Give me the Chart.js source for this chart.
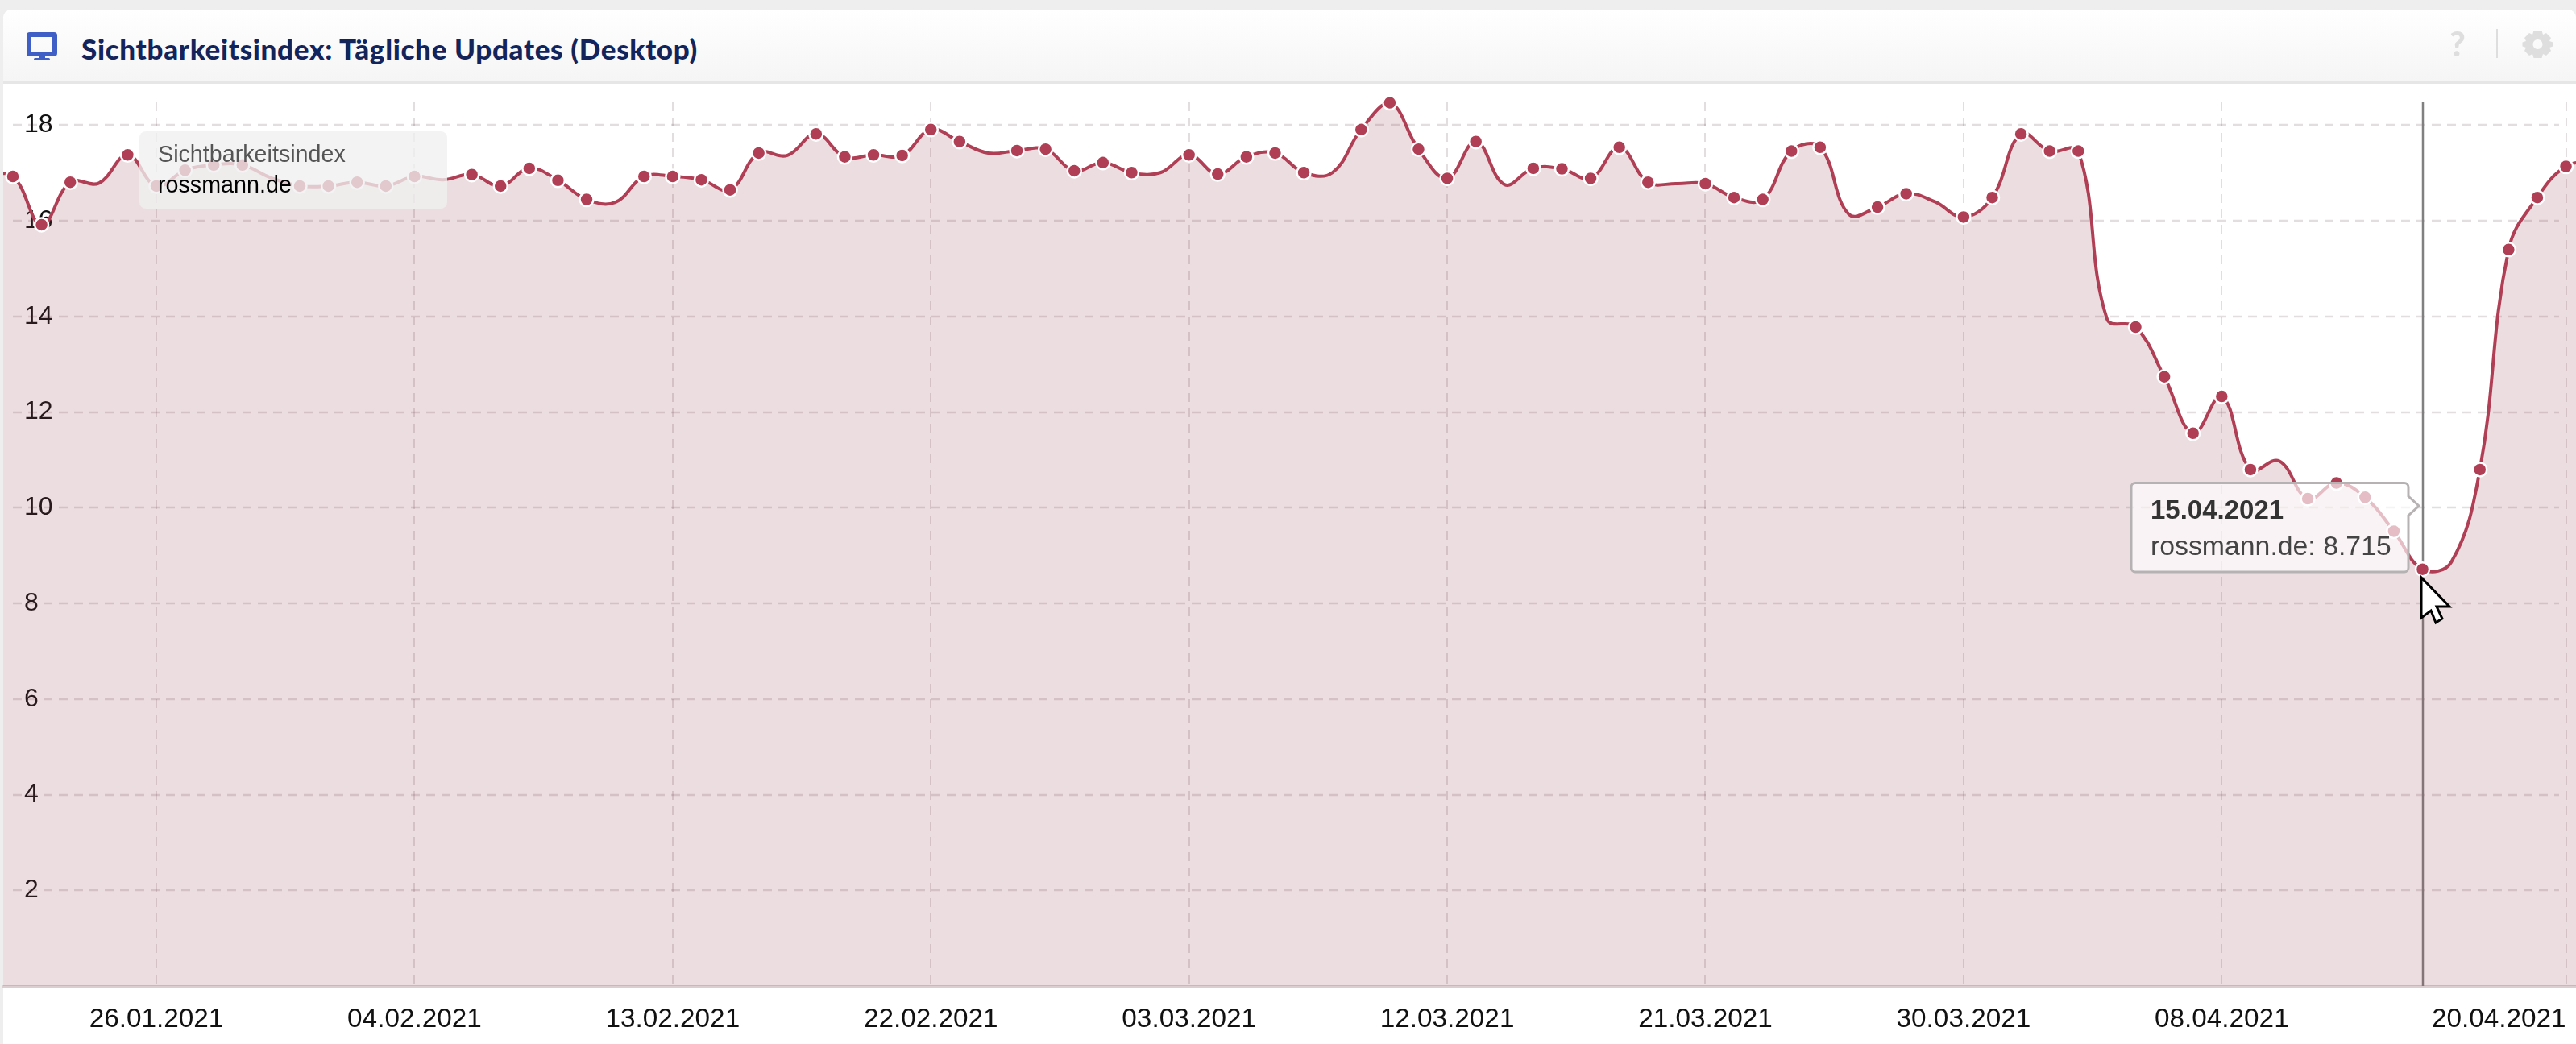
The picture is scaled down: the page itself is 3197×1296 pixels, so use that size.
<!DOCTYPE html>
<html lang="de">
<head>
<meta charset="utf-8">
<title>Sichtbarkeitsindex</title>
<script src="https://cdn.jsdelivr.net/npm/chart.js@4"></script>
<style>
html,body{margin:0;padding:0;width:3197px;height:1296px;overflow:hidden;background:#eeeeee;font-family:"Liberation Sans",Arial,sans-serif}
#card{position:absolute;left:4px;top:12px;width:3193px;height:1284px;background:#fff;border-radius:10px 10px 0 0;overflow:hidden}
#head{position:absolute;left:0;top:0;width:100%;height:89px;background:linear-gradient(#ffffff,#f5f5f5);border-bottom:3px solid #e6e6e6}
#title{position:absolute;left:97px;top:26px;font:900 35px/44px Lato,sans-serif;color:#13245b;white-space:nowrap;letter-spacing:.68px}
canvas{position:absolute;left:0;top:0}
#legend{position:absolute;left:173px;top:163px;width:382px;height:96px;background:rgba(240,240,240,.78);border-radius:8px}
#legend div{position:absolute;left:23px;white-space:nowrap;font-size:28.7px;line-height:34px}
#l1{top:11px;color:#555}
#l2{top:49px;color:#000}
svg{position:absolute;left:0;top:0}
</style>
</head>
<body>
<div id="card">
  <div id="head"><div id="title">Sichtbarkeitsindex: Tägliche Updates (Desktop)</div></div>
</div>
<canvas id="chart" width="3197" height="1296"></canvas>
<div id="legend"><div id="l1">Sichtbarkeitsindex</div><div id="l2">rossmann.de</div></div>
<svg width="3197" height="1296" viewBox="0 0 3197 1296">
  <g fill="#3f5fc6">
    <path d="M37 40h30a4 4 0 0 1 4 4v22a4 4 0 0 1-4 4H37a4 4 0 0 1-4-4V44a4 4 0 0 1 4-4zm2 6v18h26V46z" fill-rule="evenodd"/>
    <rect x="48" y="70" width="8" height="4"/><rect x="42" y="72" width="20" height="3" rx="1.5"/>
  </g>
  <text x="3050" y="70" font-family="Lato,sans-serif" font-weight="900" font-size="42" fill="#dedede" text-anchor="middle">?</text>
  <rect x="3098" y="36" width="2" height="36" fill="#dedede"/>
  <g fill="#dedede" transform="translate(3149.5 55)">
    <path fill-rule="evenodd" d="M-5-17h10l1.500 5 4-2 6 6-2 4 4.500 1.500v5l-4.500 1.500 2 4-6 6-4-2-1.500 5h-10l-1.500-5-4 2-6-6 2-4-4.500-1.500v-5l4.500-1.500-2-4 6-6 4 2zM0-6a6 6 0 1 0 .01 0z"/>
  </g>
  <path id="tipBox" d="M2650 599.500H2984a5 5 0 0 1 5 5V616L3002 628L2989 640V705a5 5 0 0 1-5 5H2650a5 5 0 0 1-5-5V604.500a5 5 0 0 1 5-5z" fill="rgba(255,255,255,.66)" stroke="#b6b2b3" stroke-width="3"/>
  <text id="tipDate" x="2669" y="644" font-family="Liberation Sans" font-weight="700" font-size="33" fill="#333"></text>
  <text id="tipValue" x="2669" y="689" font-family="Liberation Sans" font-size="33.800" fill="#444"></text>
  <path d="M3005 717L3005 767L3017 758L3023 773L3031 768L3024 753L3040 753Z" fill="#fff" stroke="#000" stroke-width="3" stroke-linejoin="miter"/>
</svg>
<script>
// Daily values, index 0 = 20.01.2021 (just outside the visible range), last = 21.04.2021
const values = [
 16.95,16.93,15.92,16.81,16.79,17.38,16.73,17.06,17.17,17.17,16.90,16.73,16.73,16.81,16.73,16.93,16.86,16.97,16.73,17.10,
 16.85,16.45,16.39,16.93,16.93,16.86,16.65,17.42,17.37,17.82,17.34,17.38,17.37,17.91,17.66,17.42,17.47,17.50,17.05,17.22,
 17.01,17.01,17.38,16.98,17.34,17.42,17.01,17.01,17.91,18.47,17.50,16.89,17.66,16.76,17.10,17.09,16.89,17.54,16.81,16.78,
 16.78,16.49,16.45,17.46,17.54,16.14,16.29,16.57,16.40,16.08,16.49,17.82,17.46,17.46,13.95,13.78,12.74,11.56,12.33,10.80,
 10.98,10.19,10.52,10.22,9.51,8.715,8.86,10.80,15.40,16.49,17.14,17.25
];
// Days on which the curve runs without a marker
const unmarkedDays = [4,10,16,22,28,35,41,47,53,59,65,68,74,80,86];
const tickDays = [6,15,24,33,42,51,60,69,78,90];
const tickLabels = ['26.01.2021','04.02.2021','13.02.2021','22.02.2021','03.03.2021','12.03.2021','21.03.2021','30.03.2021','08.04.2021','20.04.2021'];
const yTicks = [2,4,6,8,10,12,14,16,18];
const seriesName = 'rossmann.de';
const hoverDay = 85;
const hoverDate = '15.04.2021';

const xMin = 0.663, xMax = 90.35;
const lineColor = '#b03f55';
const gridColor = 'rgba(60,30,40,.15)';

document.getElementById('tipDate').textContent = hoverDate;
document.getElementById('tipValue').textContent = seriesName + ': ' + values[hoverDay].toFixed(3);

const overlays = {
  id:'overlays',
  beforeDatasetsDraw(chart){
    const {ctx, scales:{x,y}, chartArea:a} = chart;
    ctx.save();
    ctx.strokeStyle = gridColor; ctx.lineWidth = 2.5; ctx.setLineDash([11,8]);
    yTicks.forEach(t=>{
      const py = Math.round(y.getPixelForValue(t));
      ctx.beginPath(); ctx.moveTo(x.getPixelForValue(1),py); ctx.lineTo(a.right-21,py); ctx.stroke();
    });
    ctx.setLineDash([]);
    ctx.strokeStyle = '#808080'; ctx.lineWidth = 2.5;
    const hx = Math.round(x.getPixelForValue(hoverDay));
    ctx.beginPath(); ctx.moveTo(hx,a.top); ctx.lineTo(hx,a.bottom); ctx.stroke();
    ctx.restore();
  }
};

new Chart(document.getElementById('chart'),{
  type:'line',
  data:{datasets:[{
    label:seriesName,
    data:values.map((v,i)=>({x:i,y:v})),
    borderColor:lineColor,
    borderWidth:4,
    tension:0.4,
    fill:'origin',
    backgroundColor:'rgba(149,66,83,.18)',
    pointBackgroundColor:lineColor,
    pointBorderColor:'#fff',
    pointBorderWidth:2.5,
    pointRadius:c=>unmarkedDays.includes(c.dataIndex)?0:8.5,
    pointHoverRadius:8.5,
    clip:{left:0,right:0,top:14,bottom:0}
  }]},
  plugins:[overlays],
  options:{
    responsive:false,animation:false,devicePixelRatio:1,
    events:[],
    layout:{autoPadding:false,padding:{left:4,top:127,right:0,bottom:0}},
    plugins:{legend:{display:false},tooltip:{enabled:false},title:{display:false}},
    scales:{
      x:{
        type:'linear',bounds:'data',min:xMin,max:xMax,
        afterBuildTicks(axis){axis.ticks=[{value:xMin},...tickDays.map(value=>({value}))];},
        afterFit(axis){axis.height=72;axis.paddingLeft=0;axis.paddingRight=0;},
        grid:{drawTicks:false,color:c=>c.tick&&tickDays.includes(c.tick.value)?'rgba(60,30,40,.15)':'rgba(0,0,0,0)',lineWidth:2},
        border:{color:'#dccdd1',width:3,dash:[11,8]},
        ticks:{
          autoSkip:false,maxRotation:0,align:'inner',padding:22,color:'#111',
          font:{family:'"Liberation Sans"',size:33.3},
          callback(v){const k=tickDays.indexOf(v);return k<0?'':tickLabels[k];}
        }
      },
      y:{
        type:'linear',bounds:'data',min:0,max:18.48,
        afterBuildTicks(axis){axis.ticks=yTicks.map(value=>({value}));},
        afterFit(axis){axis.width=0;axis.paddingTop=0;axis.paddingBottom=0;},
        grid:{display:false,drawTicks:false},
        border:{display:false},
        ticks:{mirror:true,padding:26,color:'#111',font:{family:'"Liberation Sans"',size:32},callback:v=>String(v)}
      }
    }
  }
});
</script>
</body>
</html>
